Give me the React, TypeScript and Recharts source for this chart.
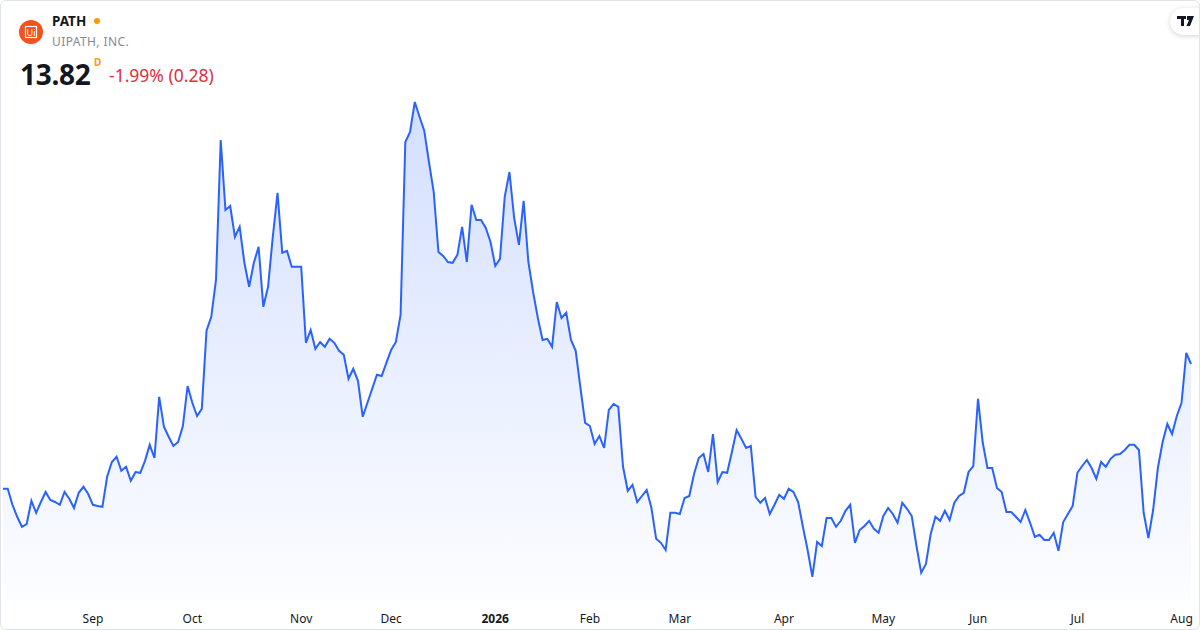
import React from "react";
import { AreaChart, Area, XAxis, YAxis } from "recharts";

// daily closes, oldest first
const closes = [
  10.7, 10.7, 10.3, 10.0, 9.75, 9.82, 10.4, 10.1, 10.37, 10.62, 10.42, 10.37, 10.3, 10.62, 10.45, 10.22, 10.6, 10.75, 10.57, 10.3,
  10.27, 10.25, 11.0, 11.37, 11.5, 11.15, 11.25, 10.9, 11.12, 11.1, 11.4, 11.8, 11.47, 13.0, 12.25, 12.0, 11.77, 11.87, 12.27, 13.27,
  12.85, 12.52, 12.7,
  14.65, 15.0, 15.92, 19.42, 17.67, 17.77, 17.0, 17.25, 16.35, 15.75, 16.35, 16.75, 15.25, 15.75, 17.0, 18.1, 16.6, 16.65, 16.25, 16.25,
  16.25, 14.35, 14.67, 14.2, 14.37, 14.25, 14.45, 14.35, 14.15, 14.05, 13.45, 13.7, 13.4, 12.5, 12.85, 13.2, 13.55, 13.52, 13.85, 14.17,
  14.37, 15.05, 19.37,
  19.62, 20.37, 20.0, 19.65, 18.87, 18.12, 16.62, 16.52, 16.37, 16.35, 16.55, 17.25, 16.37, 17.8, 17.42, 17.42, 17.22, 16.87, 16.27, 16.45,
  18.0, 18.62, 17.47, 16.8, 17.9, 16.37, 15.62, 14.97, 14.42, 14.45, 14.25, 15.37, 14.97, 15.1, 14.42, 14.15, 13.22, 12.35, 12.27, 11.82,
  12.02, 11.72,
  12.67, 12.82, 12.75, 11.25, 10.65, 10.8, 10.37, 10.52, 10.67, 10.22, 9.45, 9.35, 9.17, 10.1, 10.1, 10.07, 10.47, 10.52, 11.07, 11.47,
  11.57, 11.12, 12.07, 10.87, 11.12, 11.1, 11.62, 12.17, 11.95, 11.72, 11.77, 10.5, 10.35, 10.47, 10.07, 10.3, 10.55, 10.45, 10.7, 10.62,
  10.37,
  9.75, 9.17, 8.5, 9.37, 9.27, 9.97, 9.97, 9.75, 9.9, 10.15, 10.3, 9.35, 9.67, 9.77, 9.9, 9.7, 9.6, 10.02, 10.22, 10.07,
  9.85, 10.35, 10.2, 10.02, 9.27, 8.6, 8.82, 9.57, 10.0, 9.9, 10.15, 9.92, 10.35, 10.52, 10.6, 11.12, 11.27, 12.95, 11.85, 11.22,
  11.22, 10.72,
  10.62, 10.12, 10.12, 10.0, 9.87, 10.17, 9.85, 9.5, 9.55, 9.42, 9.42, 9.6, 9.15, 9.87, 10.07, 10.27, 11.1, 11.27, 11.42, 11.22,
  10.95, 11.37, 11.25, 11.45, 11.55, 11.57, 11.67, 11.8, 11.8, 11.67, 10.1, 9.47, 10.17, 11.22, 11.87, 12.32, 12.07, 12.52, 12.85, 14.1,
  13.82,
];

// first trading day of each month (index into closes) and its label
const monthTicks = [19, 40, 63, 82, 104, 124, 143, 165, 186, 206, 227, 249];
const monthLabels = ["Sep", "Oct", "Nov", "Dec", "2026", "Feb", "Mar", "Apr", "May", "Jun", "Jul", "Aug"];

const data = closes.map((close, i) => ({ i, close }));

const FONT = '"Noto Sans", "Open Sans", Arial, sans-serif';

function MonthTick({ x, payload }: any) {
  const k = monthTicks.indexOf(payload.value);
  const label = monthLabels[k] ?? "";
  const isYear = /^\d{4}$/.test(label);
  return (
    <text
      x={x}
      y={618}
      textAnchor="middle"
      dominantBaseline="central"
      fontFamily={FONT}
      fontSize={12}
      fontWeight={isYear ? 700 : 400}
      fill="#131722"
    >
      {label}
    </text>
  );
}

function Header() {
  return (
    <div style={{ position: "absolute", left: 0, top: 0, fontFamily: FONT }}>
      <svg width={24} height={24} style={{ position: "absolute", left: 18, top: 19 }}>
        <circle cx={12} cy={12} r={12} fill="#f4511e" />
        <rect x={6.5} y={6.5} width={11} height={11} fill="none" stroke="#fff" strokeWidth={1.2} />
        <text x={12} y={12.5} textAnchor="middle" dominantBaseline="central" fontSize={9} fill="#fff" fontFamily={FONT}>
          Ui
        </text>
      </svg>
      <div style={{ position: "absolute", left: 51, top: 11, fontSize: 13.5, fontWeight: 700, color: "#131722", whiteSpace: "nowrap" }}>
        PATH
      </div>
      <div style={{ position: "absolute", left: 93, top: 17, width: 6, height: 6, borderRadius: 3, background: "#ff9800" }} />
      <div style={{ position: "absolute", left: 51, top: 32, fontSize: 12, color: "#868993", letterSpacing: 0.4, whiteSpace: "nowrap" }}>
        UIPATH, INC.
      </div>
      <div style={{ position: "absolute", left: 19, top: 54, fontSize: 28, fontWeight: 700, color: "#131722", lineHeight: "38px", letterSpacing: -0.3 }}>
        13.82
      </div>
      <div style={{ position: "absolute", left: 93, top: 54, fontSize: 10, fontWeight: 700, color: "#ff9800" }}>D</div>
      <div style={{ position: "absolute", left: 108, top: 63, fontSize: 17.5, color: "#e0303e", whiteSpace: "nowrap", lineHeight: "22px" }}>
        -1.99% (0.28)
      </div>
    </div>
  );
}

function TvBadge() {
  return (
    <div
      style={{
        position: "absolute",
        left: 1169,
        top: 7,
        width: 44,
        height: 27,
        borderRadius: 14,
        background: "#fff",
        boxShadow: "0 1px 5px rgba(0,0,0,0.18)",
      }}
    >
      <svg width={20} height={12} style={{ position: "absolute", left: 7, top: 8 }}>
        <rect x={0} y={0} width={9} height={3} fill="#131722" />
        <rect x={4} y={0} width={3} height={10} fill="#131722" />
        <polygon points="10,0 17,0 13,10 9.5,10 12,4 10,4" fill="#131722" />
      </svg>
    </div>
  );
}

export default function App() {
  return (
    <div
      style={{
        position: "absolute",
        left: 0,
        top: 0,
        width: 1200,
        height: 630,
        background: "#fff",
        boxSizing: "border-box",
        border: "1px solid #e0e3eb",
        borderRadius: 6,
        overflow: "hidden",
      }}
    >
      <div style={{ position: "absolute", left: -1, top: -1 }}>
        <AreaChart width={1200} height={630} data={data} margin={{ top: 80, right: 9, bottom: 0, left: 3 }}>
          <defs>
            <linearGradient id="pathFill" x1="0" y1="0" x2="0" y2="1">
              <stop offset="0%" stopColor="#2962ff" stopOpacity={0.34} />
              <stop offset="100%" stopColor="#2962ff" stopOpacity={0.02} />
            </linearGradient>
          </defs>
          <XAxis
            dataKey="i"
            type="number"
            domain={[0, closes.length - 1]}
            ticks={monthTicks}
            interval={0}
            height={30}
            axisLine={false}
            tickLine={false}
            tick={<MonthTick />}
          />
          <YAxis hide domain={[7.92, 20.92]} allowDataOverflow />
          <Area
            type="linear"
            dataKey="close"
            stroke="#2962ff"
            strokeWidth={2}
            fill="url(#pathFill)"
            dot={false}
            activeDot={false}
            isAnimationActive={false}
          />
        </AreaChart>
      </div>
      <Header />
      <TvBadge />
    </div>
  );
}
